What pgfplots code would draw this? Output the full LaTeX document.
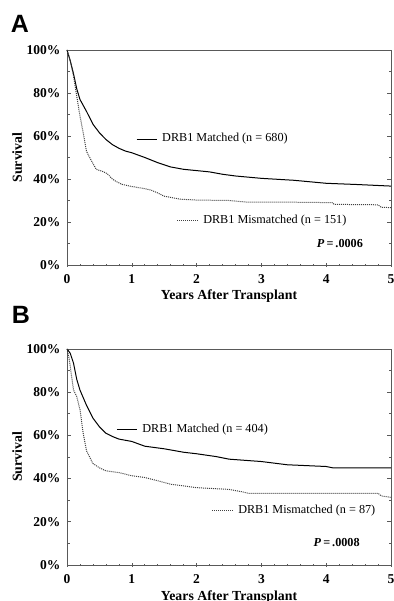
\documentclass[border=0pt]{standalone}
\usepackage{pgfplots}
\pgfplotsset{compat=1.18}
\usepackage{fontspec}
\setmainfont{Liberation Serif}
\newfontfamily\panelfont{Liberation Sans}
\tikzset{
  matched/.style={black, line width=1pt},
  mism/.style={black!75, densely dotted, line width=1pt},
}
\pgfplotsset{
  km/.style={
    scale only axis, width=324pt,
    xmin=0, xmax=5, ymin=0, ymax=100,
    axis line style={black!65, line width=0.7pt},
    xtick={0,1,2,3,4,5}, xticklabels={0,1,2,3,4,5},
    minor x tick num=4,
    ytick={0,20,40,60,80,100},
    yticklabels={0\%,20\%,40\%,60\%,80\%,100\%},
    minor ytick={10,30,50,70,90},
    tick style={black!65, line width=0.6pt},
    major tick length=4pt, minor tick length=2.5pt,
    xtick align=center,
    xtick pos=bottom,
    ytick pos=both,
    /pgf/number format/assume math mode=true,
    ticklabel style={font=\bfseries\fontsize{13.5}{14}\selectfont},
    xticklabel style={yshift=-4pt},
    yticklabel style={xshift=-3pt},
    label style={font=\bfseries\fontsize{13.8}{14}\selectfont},
    xlabel={Years After Transplant},
    ylabel={Survival},
    ylabel style={at={(axis description cs:-0.154,0.5)}, anchor=center},
    clip=false,
  },
}
\begin{document}
\begin{tikzpicture}
\useasboundingbox (0pt,0pt) rectangle (393pt,601pt);
\node[font=\panelfont\bfseries\fontsize{25}{25}\selectfont] at (20pt,577pt) {A};
\node[font=\panelfont\bfseries\fontsize{25}{25}\selectfont] at (21pt,286pt) {B};
% Panel A
\begin{axis}[km, at={(67pt,336pt)}, anchor=south west, height=215pt,
  xlabel style={at={(axis description cs:0.5,-0.144)}, anchor=center}]
\addplot[matched] coordinates {(0,100)(0.05,95)(0.1,89)(0.15,82)(0.2,77)(0.3,71.5)(0.4,65.5)(0.5,61.5)(0.6,58.4)(0.7,56)(0.8,54.3)(0.9,53)(1.0,52.2)(1.2,50)(1.4,47.6)(1.6,45.6)(1.8,44.5)(2.0,43.9)(2.2,43.3)(2.4,42.2)(2.6,41.4)(3.0,40.3)(3.5,39.4)(4.0,38)(4.5,37.4)(5,36.7)};
\addplot[mism] coordinates {(0,100)(0.05,95)(0.1,88)(0.15,78.6)(0.2,69.3)(0.25,61.5)(0.3,53)(0.35,50)(0.45,44.5)(0.55,43.5)(0.62,42.5)(0.7,40)(0.75,39)(0.85,37.5)(1.0,36.5)(1.2,35.5)(1.3,34.8)(1.4,33.5)(1.5,32)(1.75,30.6)(2.0,30.2)(2.5,30)(2.75,29.3)(3.5,29.2)(4.1,29)(4.12,28.2)(4.8,28)(4.85,26.8)(5,26.7)};
\draw[matched] (axis cs:1.075,58.6) -- (axis cs:1.384,58.6);
\node[anchor=west, font=\fontsize{12.2}{13}\selectfont, inner sep=0pt] at (axis cs:1.466,58.6) {DRB1 Matched (n = 680)};
\draw[mism] (axis cs:1.70,20.5) -- (axis cs:2.02,20.5);
\node[anchor=west, font=\fontsize{12.2}{13}\selectfont, inner sep=0pt] at (axis cs:2.10,20.5) {DRB1 Mismatched (n = 151)};
\node[anchor=east, font=\bfseries\fontsize{12.2}{13}\selectfont, inner sep=0pt] at (axis cs:4.57,10.2) {\textit{P}\,=\,.0006};
\end{axis}
% Panel B
\begin{axis}[km, at={(67pt,36pt)}, anchor=south west, height=216pt,
  xlabel style={at={(axis description cs:0.5,-0.148)}, anchor=center}]
\addplot[matched] coordinates {(0,100)(0.05,98)(0.1,93.5)(0.15,86)(0.2,81)(0.3,74)(0.4,68)(0.5,64)(0.6,61)(0.7,59.5)(0.8,58.3)(1.0,57.2)(1.2,55)(1.5,53.8)(1.8,52.2)(2.0,51.5)(2.3,50.2)(2.5,49)(3.0,47.9)(3.4,46.4)(4.0,45.6)(4.1,45)(5,45)};
\addplot[mism] coordinates {(0,100)(0.03,96)(0.05,92)(0.1,81)(0.15,78)(0.2,72)(0.25,61)(0.3,53)(0.35,50)(0.4,47)(0.5,45)(0.6,43.6)(0.8,42.8)(1.0,41.3)(1.2,40.5)(1.4,39)(1.6,37.4)(1.8,36.6)(2.0,35.8)(2.5,35)(2.7,33.9)(2.8,33.2)(4.8,33.2)(4.85,32)(5,31.3)};
\draw[matched] (axis cs:0.77,62.5) -- (axis cs:1.08,62.5);
\node[anchor=west, font=\fontsize{12.2}{13}\selectfont, inner sep=0pt] at (axis cs:1.16,62.5) {DRB1 Matched (n = 404)};
\draw[mism] (axis cs:2.24,25) -- (axis cs:2.56,25);
\node[anchor=west, font=\fontsize{12.2}{13}\selectfont, inner sep=0pt] at (axis cs:2.64,25) {DRB1 Mismatched (n = 87)};
\node[anchor=east, font=\bfseries\fontsize{12.2}{13}\selectfont, inner sep=0pt] at (axis cs:4.52,10.2) {\textit{P}\,=\,.0008};
\end{axis}
\end{tikzpicture}
\end{document}
